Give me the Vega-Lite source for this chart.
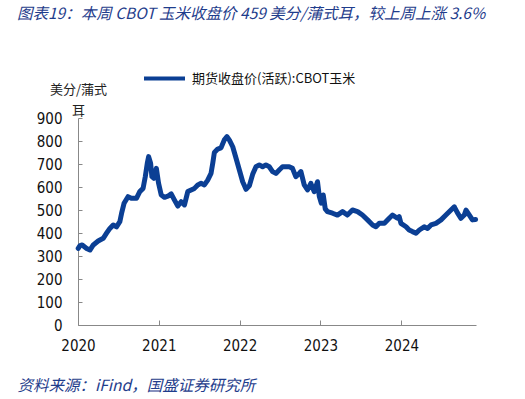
{
  "$schema": "https://vega.github.io/schema/vega-lite/v6.json",
  "width": 398,
  "height": 207,
  "autosize": "none",
  "padding": {"left": 78, "top": 118, "right": 49, "bottom": 74},
  "background": "white",
  "title": {
    "text": "图表19：本周 CBOT 玉米收盘价 459 美分/蒲式耳，较上周上涨 3.6%",
    "anchor": "start",
    "frame": "group",
    "dx": -61,
    "offset": 19,
    "baseline": "bottom",
    "font": "Noto Sans CJK SC",
    "fontSize": 15.5,
    "fontStyle": "italic",
    "fontWeight": "normal",
    "color": "#1f3d8c"
  },
  "data": {
    "values": [
      {"date": "2020-06-16", "price": 333},
      {"date": "2020-06-24", "price": 345},
      {"date": "2020-07-04", "price": 348},
      {"date": "2020-07-24", "price": 333},
      {"date": "2020-08-08", "price": 326},
      {"date": "2020-08-23", "price": 348},
      {"date": "2020-09-14", "price": 365},
      {"date": "2020-10-07", "price": 377},
      {"date": "2020-10-22", "price": 399},
      {"date": "2020-11-06", "price": 420},
      {"date": "2020-11-21", "price": 435},
      {"date": "2020-12-06", "price": 427},
      {"date": "2020-12-21", "price": 449},
      {"date": "2020-12-29", "price": 486},
      {"date": "2021-01-09", "price": 529},
      {"date": "2021-01-27", "price": 558},
      {"date": "2021-02-11", "price": 551},
      {"date": "2021-03-06", "price": 551},
      {"date": "2021-03-21", "price": 580},
      {"date": "2021-04-05", "price": 594},
      {"date": "2021-04-15", "price": 645},
      {"date": "2021-04-24", "price": 703},
      {"date": "2021-04-30", "price": 732},
      {"date": "2021-05-09", "price": 703},
      {"date": "2021-05-15", "price": 645},
      {"date": "2021-05-24", "price": 638},
      {"date": "2021-06-04", "price": 681},
      {"date": "2021-06-14", "price": 616},
      {"date": "2021-06-26", "price": 565},
      {"date": "2021-07-11", "price": 555},
      {"date": "2021-07-26", "price": 560},
      {"date": "2021-08-10", "price": 570},
      {"date": "2021-08-25", "price": 543},
      {"date": "2021-09-09", "price": 517},
      {"date": "2021-09-24", "price": 536},
      {"date": "2021-10-09", "price": 522},
      {"date": "2021-10-24", "price": 580},
      {"date": "2021-11-08", "price": 587},
      {"date": "2021-11-23", "price": 594},
      {"date": "2021-12-08", "price": 609},
      {"date": "2021-12-23", "price": 616},
      {"date": "2022-01-07", "price": 609},
      {"date": "2022-01-22", "price": 630},
      {"date": "2022-02-06", "price": 659},
      {"date": "2022-02-14", "price": 705},
      {"date": "2022-02-21", "price": 750},
      {"date": "2022-03-08", "price": 765},
      {"date": "2022-03-23", "price": 770},
      {"date": "2022-04-07", "price": 805},
      {"date": "2022-04-19", "price": 819},
      {"date": "2022-04-30", "price": 804},
      {"date": "2022-05-15", "price": 775},
      {"date": "2022-05-30", "price": 725},
      {"date": "2022-06-14", "price": 674},
      {"date": "2022-06-29", "price": 623},
      {"date": "2022-07-14", "price": 590},
      {"date": "2022-07-29", "price": 605},
      {"date": "2022-08-13", "price": 655},
      {"date": "2022-08-28", "price": 688},
      {"date": "2022-09-12", "price": 696},
      {"date": "2022-09-27", "price": 688},
      {"date": "2022-10-12", "price": 696},
      {"date": "2022-10-27", "price": 688},
      {"date": "2022-11-11", "price": 667},
      {"date": "2022-11-26", "price": 659},
      {"date": "2022-12-11", "price": 674},
      {"date": "2022-12-26", "price": 688},
      {"date": "2023-01-10", "price": 688},
      {"date": "2023-01-25", "price": 688},
      {"date": "2023-02-09", "price": 681},
      {"date": "2023-02-24", "price": 645},
      {"date": "2023-03-11", "price": 659},
      {"date": "2023-03-19", "price": 667},
      {"date": "2023-04-03", "price": 609},
      {"date": "2023-04-18", "price": 587},
      {"date": "2023-05-03", "price": 616},
      {"date": "2023-05-18", "price": 580},
      {"date": "2023-06-02", "price": 623},
      {"date": "2023-06-10", "price": 560},
      {"date": "2023-06-19", "price": 530},
      {"date": "2023-06-28", "price": 565},
      {"date": "2023-07-07", "price": 505},
      {"date": "2023-07-17", "price": 493},
      {"date": "2023-08-09", "price": 486},
      {"date": "2023-08-31", "price": 478},
      {"date": "2023-09-23", "price": 493},
      {"date": "2023-10-15", "price": 478},
      {"date": "2023-11-07", "price": 500},
      {"date": "2023-11-30", "price": 493},
      {"date": "2023-12-22", "price": 478},
      {"date": "2024-01-14", "price": 457},
      {"date": "2024-02-06", "price": 435},
      {"date": "2024-02-21", "price": 427},
      {"date": "2024-03-07", "price": 442},
      {"date": "2024-03-30", "price": 442},
      {"date": "2024-04-21", "price": 464},
      {"date": "2024-05-06", "price": 478},
      {"date": "2024-05-28", "price": 464},
      {"date": "2024-06-05", "price": 471},
      {"date": "2024-06-13", "price": 442},
      {"date": "2024-07-06", "price": 427},
      {"date": "2024-07-20", "price": 413},
      {"date": "2024-08-04", "price": 406},
      {"date": "2024-08-20", "price": 399},
      {"date": "2024-09-04", "price": 413},
      {"date": "2024-09-26", "price": 427},
      {"date": "2024-10-11", "price": 420},
      {"date": "2024-10-27", "price": 435},
      {"date": "2024-11-18", "price": 442},
      {"date": "2024-12-11", "price": 457},
      {"date": "2025-01-02", "price": 478},
      {"date": "2025-01-25", "price": 500},
      {"date": "2025-02-09", "price": 514},
      {"date": "2025-02-24", "price": 486},
      {"date": "2025-03-11", "price": 464},
      {"date": "2025-03-26", "price": 478},
      {"date": "2025-04-03", "price": 500},
      {"date": "2025-04-18", "price": 478},
      {"date": "2025-05-02", "price": 457},
      {"date": "2025-05-16", "price": 459}
    ]
  },
  "mark": {"type": "line", "strokeWidth": 5, "strokeJoin": "round", "strokeCap": "round"},
  "encoding": {
    "x": {
      "field": "date",
      "type": "temporal",
      "scale": {"domain": [{"year": 2020, "month": 6, "date": 15}, {"year": 2025, "month": 5, "date": 18}]},
      "axis": {
        "values": [
          {"year": 2020, "month": 6, "date": 15},
          {"year": 2021, "month": 6, "date": 15},
          {"year": 2022, "month": 6, "date": 15},
          {"year": 2023, "month": 6, "date": 15},
          {"year": 2024, "month": 6, "date": 15}
        ],
        "format": "%Y",
        "labelAngle": 0,
        "labelAlign": "center",
        "labelFont": "DejaVu Sans Condensed",
        "labelFontSize": 15,
        "labelColor": "#111",
        "labelPadding": 18,
        "tickSize": -5,
        "tickColor": "#888",
        "domainColor": "#888",
        "grid": false,
        "title": "资料来源：iFind，国盛证券研究所",
        "titleAnchor": "start",
        "titleAlign": "left",
        "titleX": -61,
        "titleY": 60,
        "titleBaseline": "middle",
        "titleFont": "Noto Sans CJK SC",
        "titleFontStyle": "italic",
        "titleFontSize": 15.5,
        "titleFontWeight": "normal",
        "titleColor": "#1f3d8c"
      }
    },
    "y": {
      "field": "price",
      "type": "quantitative",
      "scale": {"domain": [0, 900], "nice": false},
      "axis": {
        "values": [0, 100, 200, 300, 400, 500, 600, 700, 800, 900],
        "labelFont": "DejaVu Sans Condensed",
        "labelFontSize": 15,
        "labelColor": "#111",
        "labelPadding": 20,
        "tickSize": -4,
        "tickColor": "#888",
        "domainColor": "#888",
        "grid": false,
        "title": ["美分/蒲式", "耳"],
        "titleAngle": 0,
        "titleAlign": "center",
        "titleBaseline": "bottom",
        "titleX": 0,
        "titleY": -22,
        "titleLineHeight": 21,
        "titleFont": "Noto Sans CJK SC",
        "titleFontSize": 13,
        "titleFontWeight": "normal",
        "titleColor": "#222"
      }
    },
    "color": {
      "datum": "期货收盘价(活跃):CBOT玉米",
      "scale": {"range": ["#0b3f94"]},
      "legend": {
        "title": null,
        "orient": "none",
        "legendX": 64,
        "legendY": -62,
        "symbolType": "stroke",
        "symbolSize": 1681,
        "symbolStrokeWidth": 4,
        "labelFont": "Noto Sans CJK SC",
        "labelFontSize": 13,
        "labelColor": "#111",
        "labelOffset": 5,
        "labelLimit": 400
      }
    }
  },
  "config": {"view": {"stroke": null}}
}
